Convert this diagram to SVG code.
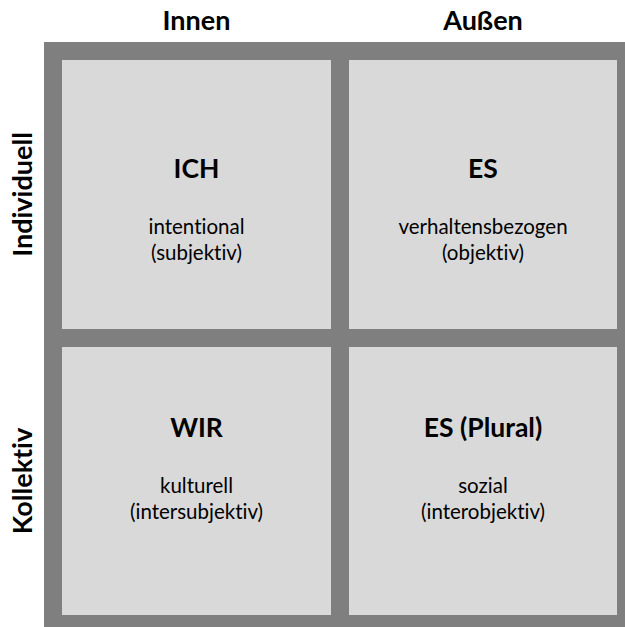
<svg xmlns="http://www.w3.org/2000/svg" width="625" height="627" viewBox="0 0 625 627">
  <style>
    text { font-family: Lato, "Liberation Sans", sans-serif; fill: #000; text-anchor: middle; font-variant-ligatures: none; }
    .frame { fill: #7f7f7f; }
    .cell { fill: #d9d9d9; }
    .axis { font-weight: bold; font-size: 27px; }
    .title { font-weight: bold; font-size: 26.5px; }
    .body { font-size: 20.5px; }
  </style>

  <!-- axis labels -->
  <g id="axis-labels">
    <text class="axis" x="196.5" y="30">Innen</text>
    <text class="axis" x="483" y="30">Außen</text>
    <text class="axis" transform="translate(32,194.5) rotate(-90)">Individuell</text>
    <text class="axis" transform="translate(32,481) rotate(-90)">Kollektiv</text>
  </g>

  <!-- grey frame behind the four quadrants -->
  <rect class="frame" x="44" y="42" width="581" height="585"/>

  <g id="quadrant-ich">
    <rect class="cell" x="62" y="60" width="269" height="269"/>
    <text class="title" x="196.5" y="177.7">ICH</text>
    <text class="body" x="196.5" y="234.3">intentional</text>
    <text class="body" x="196.5" y="259.7">(subjektiv)</text>
  </g>

  <g id="quadrant-es">
    <rect class="cell" x="349" y="60" width="268" height="269"/>
    <text class="title" x="483" y="177.7">ES</text>
    <text class="body" x="483" y="234.3">verhaltensbezogen</text>
    <text class="body" x="483" y="259.7">(objektiv)</text>
  </g>

  <g id="quadrant-wir">
    <rect class="cell" x="62" y="347" width="269" height="268"/>
    <text class="title" x="196.5" y="436.5">WIR</text>
    <text class="body" x="196.5" y="493.3">kulturell</text>
    <text class="body" x="196.5" y="519">(intersubjektiv)</text>
  </g>

  <g id="quadrant-es-plural">
    <rect class="cell" x="349" y="347" width="268" height="268"/>
    <text class="title" x="483" y="436.5">ES (Plural)</text>
    <text class="body" x="483" y="493.3">sozial</text>
    <text class="body" x="483" y="519">(interobjektiv)</text>
  </g>
</svg>
